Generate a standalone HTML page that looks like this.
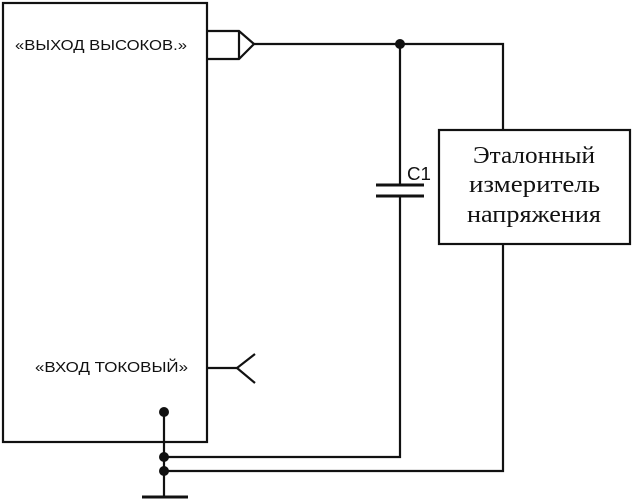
<!DOCTYPE html>
<html><head><meta charset="utf-8"><style>
html,body{margin:0;padding:0;background:#fff;width:632px;height:502px;overflow:hidden}
</style></head><body>
<svg width="632" height="502" viewBox="0 0 632 502" xmlns="http://www.w3.org/2000/svg">
<g fill="none" stroke="#111" stroke-width="2.2">
<rect x="3" y="3" width="204" height="439"/>
<polyline points="207,31 239,31 254,44 239,59 207,59"/>
<line x1="239" y1="31" x2="239" y2="59"/>
<polyline points="254,44 503,44 503,130"/>
<line x1="400" y1="44" x2="400" y2="185"/>
<line x1="376" y1="185" x2="424" y2="185" stroke-width="3"/>
<line x1="376" y1="196" x2="424" y2="196" stroke-width="3"/>
<polyline points="400,196 400,457 164,457"/>
<rect x="439" y="130" width="191" height="114"/>
<polyline points="503,244 503,471 164,471"/>
<line x1="164" y1="412" x2="164" y2="497"/>
<line x1="142" y1="497" x2="188" y2="497" stroke-width="3"/>
<polyline points="207,368 237,368"/>
<polyline points="255,354 237,368 255,383"/>
</g>
<g fill="#111">
<circle cx="400" cy="44" r="5"/>
<circle cx="164" cy="412" r="5"/>
<circle cx="164" cy="457" r="5"/>
<circle cx="164" cy="471" r="5"/>
</g>
<g font-family="Liberation Sans, sans-serif" font-size="14.5" fill="#111">
<text x="15" y="50" textLength="172" lengthAdjust="spacingAndGlyphs">«ВЫХОД ВЫСОКОВ.»</text>
<text x="35" y="372" textLength="153" lengthAdjust="spacingAndGlyphs">«ВХОД ТОКОВЫЙ»</text>
<text x="407" y="180" font-size="18" textLength="24" lengthAdjust="spacingAndGlyphs">C1</text>
</g>
<g font-family="Liberation Serif, serif" font-size="24" fill="#111">
<text x="473" y="163" textLength="122" lengthAdjust="spacingAndGlyphs">Эталонный</text>
<text x="469" y="192" textLength="131" lengthAdjust="spacingAndGlyphs">измеритель</text>
<text x="467" y="222" textLength="134" lengthAdjust="spacingAndGlyphs">напряжения</text>
</g>
</svg>
</body></html>
